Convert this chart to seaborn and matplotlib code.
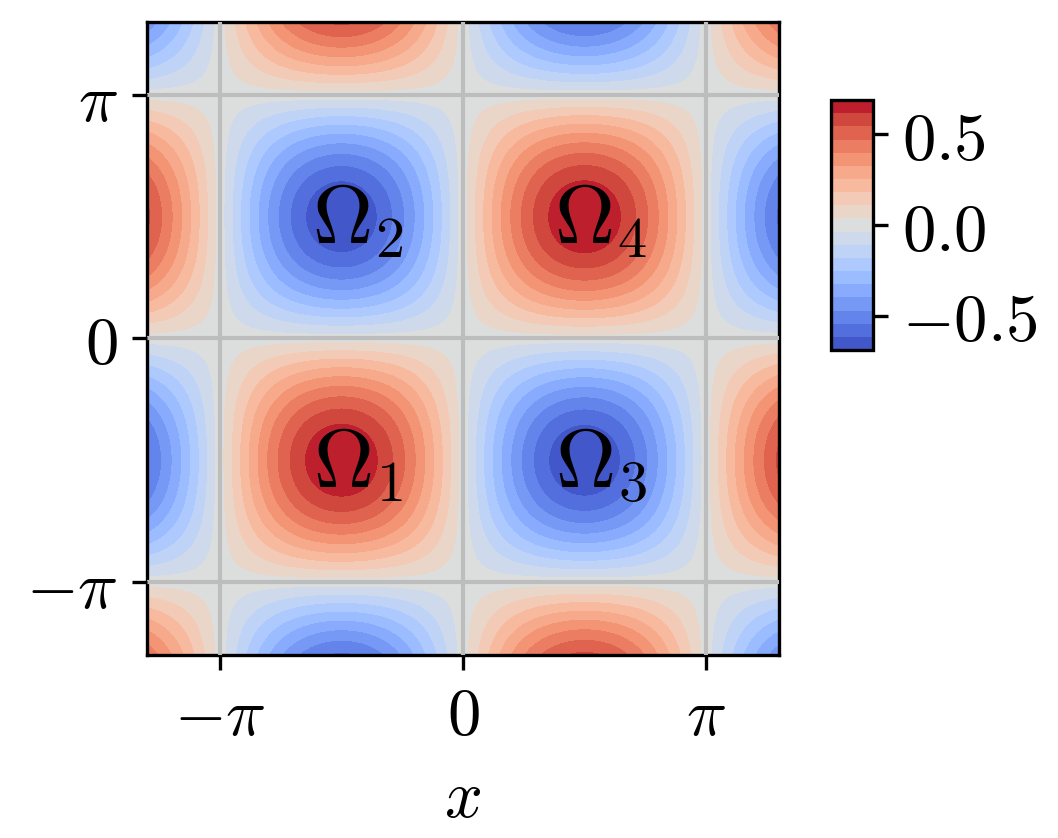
import numpy as np
import matplotlib
matplotlib.use("Agg")
import matplotlib.pyplot as plt
import seaborn as sns

sns.set_style("ticks", {"axes.grid": True, "grid.color": "#b0b0b0"})
plt.rcParams['font.family'] = ['serif']
plt.rcParams['mathtext.fontset'] = 'cm'
plt.rcParams['font.size'] = 16
plt.rcParams['axes.edgecolor'] = 'black'
plt.rcParams['text.color'] = 'black'
plt.rcParams['axes.labelcolor'] = 'black'
plt.rcParams['xtick.color'] = 'black'
plt.rcParams['ytick.color'] = 'black'
plt.rcParams['axes.axisbelow'] = False

# field: amplitude * sin(x) * sin(y) on [-1.3pi, 1.3pi]^2
amplitude = 0.69
half_width = 1.3 * np.pi
n_grid = 400
n_levels = 20

tick_values = [-np.pi, 0.0, np.pi]
tick_labels = [r'$-\pi$', r'$0$', r'$\pi$']
cbar_ticks = [-0.5, 0.0, 0.5]
cbar_labels = [r'$-0.5$', r'$0.0$', r'$0.5$']

region_x = [-np.pi/2, -np.pi/2, np.pi/2, np.pi/2]
region_y = [-np.pi/2, np.pi/2, -np.pi/2, np.pi/2]
region_labels = [r'$\Omega_1$', r'$\Omega_2$', r'$\Omega_3$', r'$\Omega_4$']

x = np.linspace(-half_width, half_width, n_grid)
y = np.linspace(-half_width, half_width, n_grid)
X, Y = np.meshgrid(x, y)
Z = amplitude * np.sin(X) * np.sin(Y)

fig = plt.figure(figsize=(1058/300, 838/300), dpi=300)
ax = fig.add_axes([0.1389, 0.2184, 0.5974, 0.7554])
cax = fig.add_axes([0.7854, 0.5823, 0.0397, 0.2983])

cmap = sns.color_palette("coolwarm", as_cmap=True)
levels = np.linspace(Z.min(), Z.max(), n_levels)
cf = ax.contourf(X, Y, Z, levels=levels, cmap=cmap, zorder=0)

ax.set_xlim(-half_width, half_width)
ax.set_ylim(-half_width, half_width)
ax.set_xticks(tick_values)
ax.set_xticklabels(tick_labels)
ax.set_yticks(tick_values)
ax.set_yticklabels(tick_labels)
ax.set_axisbelow(False)
ax.grid(True, color='#bdbdbd', linewidth=1.0, zorder=2)
ax.set_xlabel(r'$x$')
for s in ax.spines.values():
    s.set_linewidth(0.8)

for rx, ry, lab in zip(region_x, region_y, region_labels):
    ax.annotate(lab, (rx, ry), xytext=(4, -1), textcoords='offset points',
                ha='center', va='center', fontsize=20, zorder=3)

cb = fig.colorbar(cf, cax=cax)
cb.set_ticks(cbar_ticks)
cb.set_ticklabels(cbar_labels)
cb.outline.set_linewidth(0.8)
cax.grid(False)

fig.savefig("out.png", dpi=300)
